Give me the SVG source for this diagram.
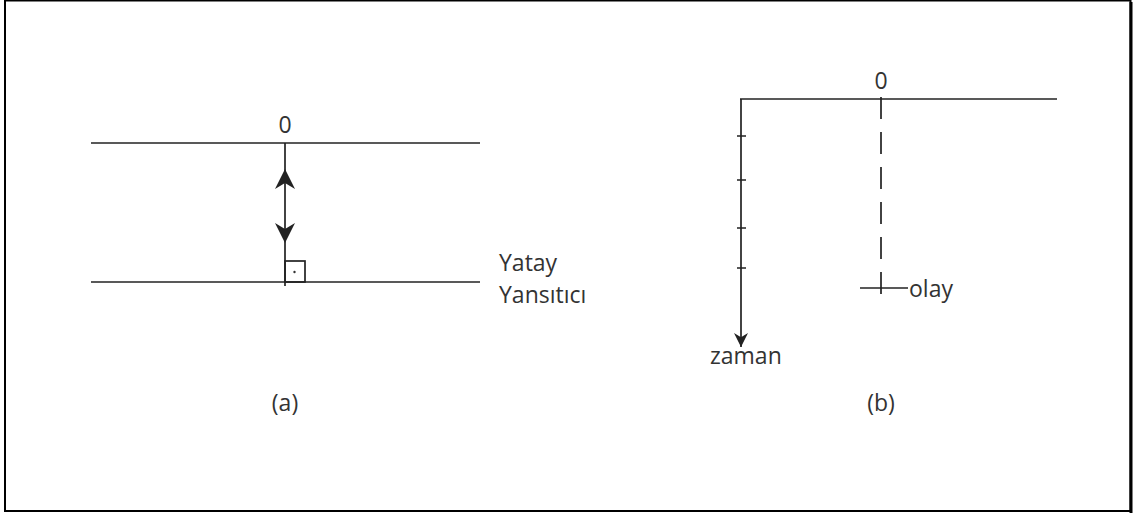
<svg xmlns="http://www.w3.org/2000/svg" width="1137" height="513" viewBox="0 0 1137 513">
<style>
.ln{stroke:#222;stroke-width:1.7;fill:none}
.t{font-family:"Open Sans","Liberation Sans",sans-serif;font-size:23px;fill:#333}
</style>
<defs>
<marker id="ah" viewBox="0 0 10 10" refX="10" refY="5" markerWidth="14" markerHeight="14" markerUnits="userSpaceOnUse" orient="auto">
<path d="M0,0 L10,5 L0,10 L3,5 Z" fill="#222"/>
</marker>
</defs>
<rect width="1137" height="513" fill="#fff"/>
<rect x="5" y="0.5" width="1125.5" height="510.5" fill="none" stroke="#000" stroke-width="2"/>
<line x1="1131" y1="2" x2="1131" y2="513" stroke="#000" stroke-width="3"/>
<g id="connectors">
<line class="ln" x1="285" y1="143" x2="285" y2="286"/>
<path d="M285,169 L295,189 L285,183 L275,189 Z" fill="#222"/>
<path d="M285,243 L295,223 L285,229 L275,223 Z" fill="#222"/>
<line class="ln" x1="741" y1="99" x2="741" y2="347" marker-end="url(#ah)"/>
<line class="ln" x1="881" y1="97" x2="881" y2="297" stroke-dasharray="22 13"/>
</g>
<g id="a-top"><line class="ln" x1="91" y1="143" x2="480" y2="143"/><text class="t" x="285" y="133" text-anchor="middle">0</text></g>
<g id="a-bottom"><line class="ln" x1="91" y1="282" x2="480" y2="282"/>
<rect x="285" y="261" width="20" height="21" class="ln" stroke-width="1.3"/><circle cx="294.5" cy="272" r="1.2" fill="#333"/>
<text class="t" x="499" y="271">Yatay</text><text class="t" x="499" y="303">Yansıtıcı</text></g>
<g id="a-label"><text class="t" x="285" y="411" text-anchor="middle">(a)</text></g>
<g id="b-axis"><line class="ln" x1="740" y1="99" x2="1057" y2="99"/>
<text class="t" x="881" y="89" text-anchor="middle">0</text>
<path class="ln" d="M737,136H746M737,180H746M737,228H746M737,268H746"/>
<text class="t" x="710" y="364">zaman</text></g>
<g id="b-event"><line class="ln" x1="860" y1="288" x2="908" y2="288"/><text class="t" x="909" y="297">olay</text></g>
<g id="b-label"><text class="t" x="881" y="411" text-anchor="middle">(b)</text></g>
</svg>
